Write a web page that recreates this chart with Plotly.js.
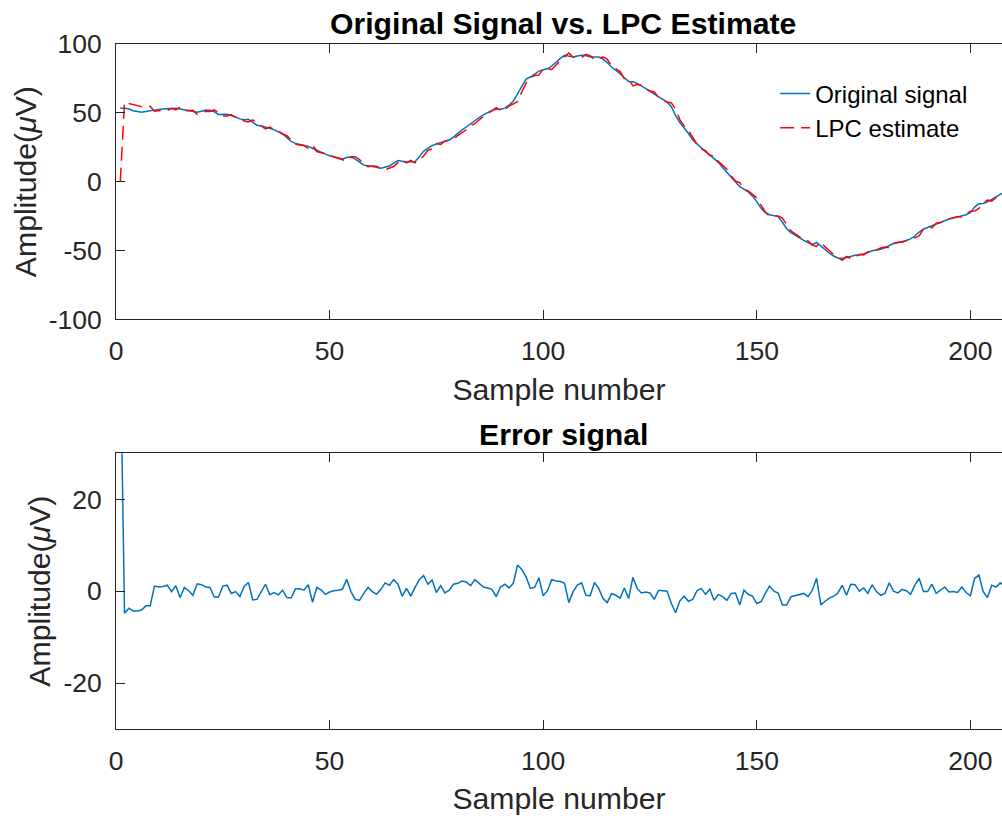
<!DOCTYPE html>
<html>
<head>
<meta charset="utf-8">
<script src="https://cdn.plot.ly/plotly-3.0.1.min.js"></script>
<style>
  html, body { margin: 0; padding: 0; background: #ffffff; overflow: hidden; }
  #chart { width: 1002px; height: 820px; }
</style>
</head>
<body>
<div id="chart"></div>
<script>
// ---- Data (one value per sample, samples 1..209) ----
const originalSignal = [
  53.5,53,53,51.5,50.8,50.4,51,51.6,52.2,52.5,
  52.8,53,53.2,53.3,52.8,52.2,51.7,51,50.4,51.2,
  52,51.8,50.8,48.8,48.8,49,48,46.8,45.6,45,
  45.3,43,41,40.5,39.8,38.8,37.6,36.2,34.8,32,
  29.2,27.8,27.2,26.5,25.6,24.3,22.7,21.3,20,18.8,
  18,17.2,16.5,17.5,18,16.3,14,12,11.6,11.3,
  10.5,9.8,10.5,11.4,13.5,15.3,14.8,14.3,14.4,14.5,
  18,22,24.2,26.2,27.4,28.2,29.2,30.3,32.3,35.2,
  37.6,39.7,42,44.6,46.6,48.5,50.3,51.8,52.6,52.6,
  53.4,55.6,58.5,63.8,70,74.5,76,78,80.3,81.3,
  82,84,87,89.6,91.8,91,90.5,91.3,91.9,91.6,
  90.6,90.6,90.5,89,86.5,83.3,81,78.5,75.5,72.8,
  72.6,71.4,69.5,67.5,65.4,63.4,61.4,59.5,57.8,54.5,
  48,43,39.4,35,30.3,27.3,24.3,21.8,19.4,17,
  14,10.3,7,3.6,0,-3.6,-5.5,-7.5,-10.5,-14.5,
  -19.4,-22.5,-24,-24.8,-25.4,-29.5,-34.2,-37,-39,-41,
  -42.7,-44.2,-45.8,-44.2,-46.8,-49.6,-52,-54,-55.4,-55.8,
  -55.2,-54.3,-53.4,-53,-52.6,-51.5,-50.2,-49.6,-49.1,-48,
  -46.3,-45,-44.4,-43.7,-42.7,-41.6,-39.5,-36.6,-34.6,-33.3,
  -32,-30.7,-29.5,-28.2,-27.2,-26.5,-25.6,-24.8,-24,-22.5,
  -18.5,-16,-15.8,-14.7,-12.8,-10.8,-8.8,-7,-5.5
];

const lpcEstimate = [
  0,57.8,56.7,55.8,55.1,54.5,54.2,54.8,51.1,51.6,
  51.8,51.7,53.3,52.1,54.2,51.4,51.6,51.9,48.8,49.8,
  51.1,51,52.1,50.1,47.7,47.7,48.5,46.9,46.8,44,
  43.4,44.9,42.8,40.6,38.3,39.6,37.9,37,34.6,33.4,
  30.7,27.3,26.7,26.3,24.2,26.7,21.9,21,20.7,19,
  17.9,17,16.1,14.9,18.1,18.1,16,12.5,10.8,11.4,
  11.2,9.4,8.7,10.1,11,13.8,15.9,13.7,15.5,13.7,
  15.5,18.6,22.7,23.8,27.7,27,29.6,30.1,30.8,33.5,
  35.4,37.7,40.8,42.1,44.9,47.6,49.6,51.4,53.8,51.7,
  51.9,54.9,56.8,58.1,65.3,71.4,75.4,77.2,77.4,82.3,
  81.9,81.5,84.8,87.5,90.1,93.5,90.6,90,90.1,92.5,
  91.6,88.7,89.9,90.6,89,83.8,81.9,80,74.8,74.4,
  69.6,70.8,69.9,67.7,65.8,65.2,61.2,59.4,57.8,57.2,
  52.7,45.1,40.5,37.2,32.1,27.2,23.7,22.5,19,19,
  14.7,11.5,9,4.1,0.4,-0.6,-5.7,-6.8,-9.4,-11.8,
  -17.1,-22,-25.1,-24.8,-25,-26.5,-31.2,-35.8,-38,-40.2,
  -42.2,-43,-46,-47,-43.8,-47.4,-50.5,-52.9,-55,-57.1,
  -54.3,-55.8,-54.8,-53,-53.3,-51,-51.6,-49.5,-48.2,-47.5,
  -48.1,-45,-44,-44.1,-42.8,-40.9,-40.8,-39.4,-34.5,-33.2,
  -33.5,-30.2,-29.7,-29.1,-27,-26.4,-25.3,-25.7,-23.7,-21.5,
  -21.3,-19.5,-15.7,-13.3,-14.1,-11.7,-10.6,-8,-6
];

const errorSignal = [
  53.5,-4.8,-3.7,-4.3,-4.3,-4.1,-3.2,-3.2,1.1,0.9,
  1.0,1.3,-0.1,1.2,-1.4,0.8,0.1,-0.9,1.6,1.4,
  0.9,0.8,-1.3,-1.3,1.1,1.3,-0.5,-0.1,-1.2,1.0,
  1.9,-1.9,-1.8,-0.1,1.5,-0.8,-0.3,-0.8,0.2,-1.4,
  -1.5,0.5,0.5,0.2,1.4,-2.4,0.8,0.3,-0.7,-0.2,
  0.1,0.2,0.4,2.6,-0.1,-1.8,-2.0,-0.5,0.8,-0.1,
  -0.7,0.4,1.8,1.3,2.5,1.5,-1.1,0.6,-1.1,0.8,
  2.5,3.4,1.5,2.4,-0.3,1.2,-0.4,0.2,1.5,1.7,
  2.2,2.0,1.2,2.5,1.7,0.9,0.7,0.4,-1.2,0.9,
  1.5,0.7,1.7,5.7,4.7,3.1,0.6,0.8,2.9,-1.0,
  0.1,2.5,2.2,2.1,1.7,-2.5,-0.1,1.3,1.8,-0.9,
  -1.0,1.9,0.6,-1.6,-2.5,-0.5,-0.9,-1.5,0.7,-1.6,
  3.0,0.6,-0.4,-0.2,-0.4,-1.8,0.2,0.1,0,-2.7,
  -4.7,-2.1,-1.1,-2.2,-1.8,0.1,0.6,-0.7,0.4,-2.0,
  -0.7,-1.2,-2.0,-0.5,-0.4,-3.0,0.2,-0.7,-1.1,-2.7,
  -2.3,-0.5,1.1,0,-0.4,-3.0,-3.0,-1.2,-1.0,-0.8,
  -0.5,-1.2,0.2,2.8,-3.0,-2.2,-1.5,-1.1,-0.4,1.3,
  -0.9,1.5,1.4,0,0.7,-0.5,1.4,-0.1,-0.9,-0.5,
  1.8,0,-0.4,0.4,0.1,-0.7,1.3,2.8,-0.1,-0.1,
  1.5,-0.5,0.2,0.9,-0.2,-0.1,-0.3,0.9,-0.3,-1.0,
  2.8,3.5,-0.1,-1.4,1.3,0.9,1.8,1.0,0.5
];

const xTickValues = [0, 50, 100, 150, 200];
const xTickLabels = ['0', '50', '100', '150', '200'];
const yTopTickValues = [-100, -50, 0, 50, 100];
const yTopTickLabels = ['-100', '-50', '0', '50', '100'];
const yBottomTickValues = [-20, 0, 20];
const yBottomTickLabels = ['-20', '0', '20'];

const seriesNames = ['Original signal', 'LPC estimate', 'Error signal'];
const titles = ['Original Signal vs. LPC Estimate', 'Error signal'];

// sample numbers 1..N
const sampleNumber = originalSignal.map((_, i) => i + 1);

const BLUE = '#0072BD';
const RED = '#FF0000';
const AXC = '#262626';
const FONT = 'Liberation Sans, Arial, Helvetica, sans-serif';

const traces = [
  { x: sampleNumber, y: originalSignal, type: 'scatter', mode: 'lines', name: seriesNames[0],
    line: { color: BLUE, width: 1.5 }, xaxis: 'x', yaxis: 'y' },
  { x: sampleNumber, y: lpcEstimate, type: 'scatter', mode: 'lines', name: seriesNames[1],
    line: { color: RED, width: 1.5, dash: '14px,7px' }, xaxis: 'x', yaxis: 'y' },
  { x: sampleNumber, y: errorSignal, type: 'scatter', mode: 'lines', name: seriesNames[2],
    line: { color: BLUE, width: 1.5 }, xaxis: 'x2', yaxis: 'y2', showlegend: false }
];

function xAxis(anchor) {
  return {
    anchor: anchor, domain: [0, 1], range: [0, 207.4],
    tickmode: 'array', tickvals: xTickValues, ticktext: xTickLabels,
    ticks: 'inside', ticklen: 9, tickwidth: 1, tickcolor: AXC,
    showline: true, linecolor: AXC, linewidth: 1, mirror: 'ticks',
    showgrid: false, zeroline: false,
    tickfont: { family: FONT, size: 26.5, color: AXC },
    ticklabelstandoff: 8,
    title: { text: 'Sample number', font: { family: FONT, size: 30.2, color: AXC }, standoff: 13 }
  };
}
function yAxis(anchor, domain, range, vals, labels) {
  return {
    anchor: anchor, domain: domain, range: range,
    tickmode: 'array', tickvals: vals, ticktext: labels,
    ticks: 'inside', ticklen: 9, tickwidth: 1, tickcolor: AXC,
    showline: true, linecolor: AXC, linewidth: 1, mirror: false,
    showgrid: false, zeroline: false,
    tickfont: { family: FONT, size: 26.5, color: AXC },
    ticklabelstandoff: 8,
    title: { text: 'Amplitude(<i>μ</i>V)', font: { family: FONT, size: 30.2, color: AXC }, standoff: 3 }
  };
}

const layout = {
  width: 1002, height: 820,
  margin: { l: 116, r: 0, t: 44, b: 91, pad: 0 },
  paper_bgcolor: '#ffffff', plot_bgcolor: '#ffffff',
  font: { family: FONT, color: AXC },
  showlegend: true,
  legend: {
    x: 0.744, y: 0.96, xanchor: 'left', yanchor: 'top',
    bgcolor: 'rgba(0,0,0,0)', borderwidth: 0,
    font: { family: FONT, size: 24, color: '#000000' },
    tracegroupgap: 0
  },
  xaxis: xAxis('y'),
  yaxis: yAxis('x', [0.5981, 1], [-100, 100], yTopTickValues, yTopTickLabels),
  xaxis2: xAxis('y2'),
  yaxis2: yAxis('x2', [0, 0.4025], [-30, 30], yBottomTickValues, yBottomTickLabels),
  annotations: [
    { text: '<b>' + titles[0] + '</b>', xref: 'paper', yref: 'paper', x: 0.5048, y: 1.0292,
      xanchor: 'center', yanchor: 'middle', showarrow: false,
      font: { family: FONT, size: 30.2, color: '#000000' } },
    { text: '<b>' + titles[1] + '</b>', xref: 'paper', yref: 'paper', x: 0.5048, y: 0.4292,
      xanchor: 'center', yanchor: 'middle', showarrow: false,
      font: { family: FONT, size: 30.2, color: '#000000' } }
  ]
};

Plotly.newPlot('chart', traces, layout, { staticPlot: true, displayModeBar: false });
</script>
</body>
</html>
